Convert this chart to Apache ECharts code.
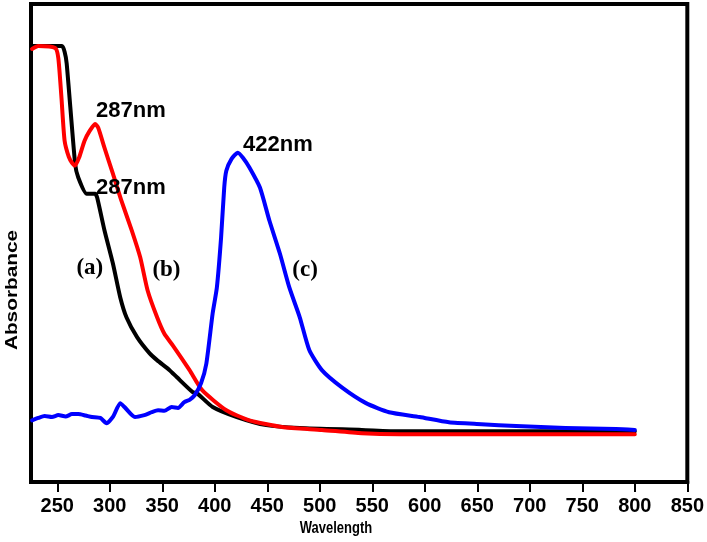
<!DOCTYPE html>
<html>
<head>
<meta charset="utf-8">
<script src="https://cdn.jsdelivr.net/npm/echarts@6/dist/echarts.min.js"></script>
<style>
html,body{margin:0;padding:0;background:#fff;}
#chart{width:707px;height:542px;}
</style>
</head>
<body>
<div id="chart"></div>
<script>
// x-axis tick labels
const xTicks = [250, 300, 350, 400, 450, 500, 550, 600, 650, 700, 750, 800, 850];

// (a) black curve
const wlA  = [226, 254.5, 257, 259, 267, 270, 278, 286, 288, 295, 303, 310, 316, 326, 338, 345, 357, 364, 379, 383, 398, 421, 449, 481, 540, 576, 670, 800];
const absA = [0.912, 0.912, 0.900, 0.875, 0.666, 0.637, 0.603, 0.603, 0.595, 0.526, 0.457, 0.386, 0.344, 0.303, 0.269, 0.255, 0.234, 0.219, 0.188, 0.186, 0.157, 0.136, 0.119, 0.113, 0.109, 0.106, 0.106, 0.106];

// (b) red curve
const wlB  = [226, 232, 248, 251, 254, 257, 261, 264, 267, 271, 276, 281, 286, 289, 295, 303, 311, 321, 329, 336, 345, 352, 360, 376, 388, 411, 433, 464, 502, 540, 576, 670, 800];
const absB = [0.906, 0.912, 0.908, 0.887, 0.804, 0.714, 0.680, 0.668, 0.662, 0.680, 0.714, 0.735, 0.749, 0.741, 0.699, 0.645, 0.589, 0.526, 0.470, 0.401, 0.345, 0.310, 0.286, 0.234, 0.192, 0.150, 0.129, 0.115, 0.109, 0.102, 0.100, 0.100, 0.100];

// (c) blue curve
const wlC  = [226, 232, 238, 245, 251, 258, 264, 270, 277, 283, 291, 297, 303, 310, 314, 324, 333, 340, 346, 352, 359, 365, 371, 376, 381, 387, 392, 398, 402, 406, 409, 411, 416, 422, 427, 433, 443, 452, 462, 471, 481, 490, 502, 521, 544, 566, 595, 623, 654, 687, 734, 782, 800];
const absC = [0.129, 0.134, 0.138, 0.136, 0.140, 0.137, 0.142, 0.142, 0.139, 0.136, 0.134, 0.123, 0.136, 0.165, 0.157, 0.136, 0.140, 0.146, 0.150, 0.149, 0.157, 0.155, 0.167, 0.172, 0.182, 0.207, 0.248, 0.353, 0.407, 0.511, 0.616, 0.651, 0.676, 0.689, 0.678, 0.658, 0.616, 0.547, 0.478, 0.407, 0.344, 0.276, 0.234, 0.198, 0.165, 0.146, 0.136, 0.125, 0.121, 0.117, 0.113, 0.111, 0.109];

// annotation texts and anchor positions (data coordinates)
const noteTexts = ['287nm', '287nm', '422nm'];
const noteWl    = [287, 287, 427];
const noteAbs   = [0.777, 0.616, 0.706];
const curveTags = ['(a)', '(b)', '(c)'];
const tagWl     = [281, 354, 486];
const tagAbs    = [0.447, 0.443, 0.443];

function zip(xs, ys){ return xs.map((x,i)=>[x, ys[i]]); }

const chart = echarts.init(document.getElementById('chart'));
const lineStyleBase = {width: 4, join: 'round', cap: 'round'};
chart.setOption({
  animation: false,
  backgroundColor: '#fff',
  grid: {left: 31, right: 17, top: 4, bottom: 60, show: true, borderColor: '#000', borderWidth: 4, containLabel: false},
  xAxis: {
    type: 'value', min: 225, max: 850,
    axisLine: {show: true, onZero: false, lineStyle: {color: '#000', width: 4}},
    axisTick: {show: true, customValues: xTicks, length: 10, lineStyle: {color: '#000', width: 2}},
    axisLabel: {show: true, customValues: xTicks, margin: 14, fontFamily: 'Arial, "Liberation Sans"', fontWeight: 'bold', fontSize: 20, color: '#000'},
    splitLine: {show: false}
  },
  yAxis: {
    type: 'value', min: 0, max: 1,
    axisLine: {show: true, lineStyle: {color: '#000', width: 4}},
    axisTick: {show: false}, axisLabel: {show: false}, splitLine: {show: false}
  },
  series: [
    {type: 'line', data: zip(wlA, absA), smooth: 0.2, showSymbol: false, symbol: 'none', lineStyle: Object.assign({color: '#000'}, lineStyleBase), z: 2},
    {type: 'line', data: zip(wlB, absB), smooth: 0.2, showSymbol: false, symbol: 'none', lineStyle: Object.assign({color: '#ff0000'}, lineStyleBase), z: 3},
    {type: 'line', data: zip(wlC, absC), smooth: 0.2, showSymbol: false, symbol: 'none', lineStyle: Object.assign({color: '#0000ff'}, lineStyleBase), z: 4}
  ]
});

const g = [];
noteTexts.forEach((t, i) => {
  const p = chart.convertToPixel({gridIndex: 0}, [noteWl[i], noteAbs[i]]);
  g.push({type: 'text', x: p[0], y: p[1], z: 10, style: {text: t, fill: '#000', font: 'bold 22px Arial, "Liberation Sans"', textAlign: 'left', textVerticalAlign: 'middle'}});
});
curveTags.forEach((t, i) => {
  const p = chart.convertToPixel({gridIndex: 0}, [tagWl[i], tagAbs[i]]);
  g.push({type: 'text', x: p[0], y: p[1], z: 10, style: {text: t, fill: '#000', font: 'bold 23px "Times New Roman", "Liberation Serif", serif', textAlign: 'center', textVerticalAlign: 'middle'}});
});
// axis titles
g.push({type: 'text', x: 336, y: 529, scaleY: 1.25, z: 10, style: {text: 'Wavelength', fill: '#000', font: 'bold 13px Arial, "Liberation Sans"', textAlign: 'center', textVerticalAlign: 'middle'}});
g.push({type: 'text', x: 13, y: 290, rotation: Math.PI/2, scaleX: 1.3, z: 10, style: {text: 'Absorbance', fill: '#000', font: 'bold 16px Arial, "Liberation Sans"', textAlign: 'center', textVerticalAlign: 'middle'}});
chart.setOption({graphic: g});
</script>
</body>
</html>
